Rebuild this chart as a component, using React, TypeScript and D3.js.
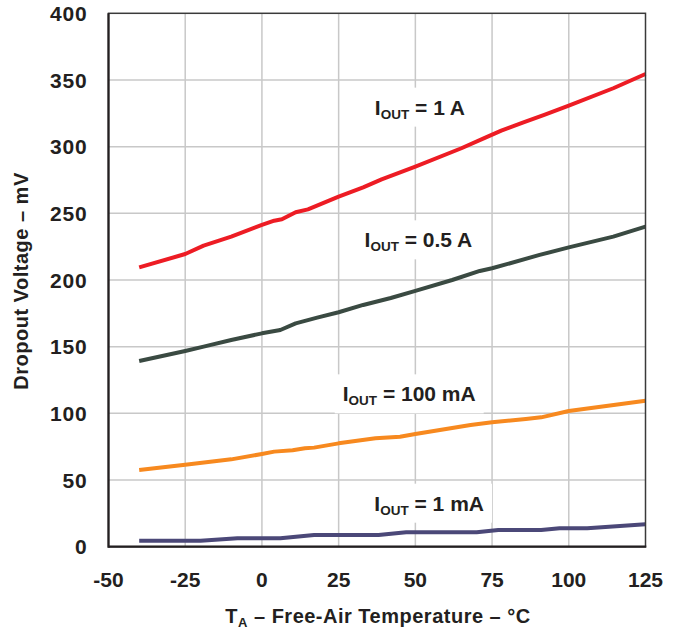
import React, { useEffect, useRef } from "react";
import * as d3 from "d3";

const xTicks = [-50, -25, 0, 25, 50, 75, 100, 125];
const yTicks = [0, 50, 100, 150, 200, 250, 300, 350, 400];

const temp1A = [-40, -25, -19, -10, 0, 4, 6.5, 11, 15, 25, 33, 39, 50, 65, 73, 78, 85, 92, 100, 114.5, 125];
const volt1A = [209.5, 219.5, 225.8, 232.5, 241.3, 244.5, 245.5, 250.8, 253, 262.5, 269.5, 275.5, 285, 298.8, 307, 312, 318, 323.8, 330.8, 343.8, 354.5];

const temp05A = [-40, -25, -19, -10, 0, 6, 11, 18, 25, 33, 42, 50, 62, 71, 75, 90.5, 100, 114.5, 125];
const volt05A = [139.3, 146.8, 150, 155, 160, 162.5, 167.5, 171.8, 175.8, 181.3, 186.5, 191.8, 200, 206.8, 208.8, 218.8, 224.5, 232.5, 240];

const temp100mA = [-40, -25, -10, 0, 4, 10, 14, 17, 25, 37, 45, 50, 60, 68, 75, 86, 91, 100, 125];
const volt100mA = [57.5, 61.5, 65.5, 69.5, 71.3, 72.3, 73.8, 74.3, 77.5, 81.3, 82.5, 84.5, 88.3, 91.3, 93.3, 95.8, 97, 101.8, 109.5];

const temp1mA = [-40, -20, -8, 6, 17, 38, 47, 70, 77, 91, 97, 106, 125];
const volt1mA = [4.5, 4.5, 6.3, 6.3, 8.8, 8.8, 10.8, 10.8, 12.5, 12.5, 13.8, 13.8, 16.8];

const seriesNames = ["1 A", "0.5 A", "100 mA", "1 mA"];
const seriesColors = ["#ed1c24", "#3a4a42", "#f7891f", "#4b4878"];
const seriesTemps = [temp1A, temp05A, temp100mA, temp1mA];
const seriesVolts = [volt1A, volt05A, volt100mA, volt1mA];
// label anchors in data units (center temperature, baseline voltage)
const labelTemps = [51.5, 51, 48, 54.5];
const labelVolts = [324, 224.5, 109, 27];

const W = 676;
const H = 637;
const M = { left: 108.5, right: 645.5, top: 13.3, bottom: 546.7 };
const FONT = "'Liberation Sans', Arial, Helvetica, sans-serif";
const INK = "#231f20";

export default function App() {
  const ref = useRef<SVGSVGElement | null>(null);

  useEffect(() => {
    const svg = d3.select(ref.current);
    svg.selectAll("*").remove();

    const x = d3.scaleLinear().domain([-50, 125]).range([M.left, M.right]);
    const y = d3.scaleLinear().domain([0, 400]).range([M.bottom, M.top]);

    svg.append("rect").attr("width", W).attr("height", H).attr("fill", "#fff");

    // grid
    const grid = svg.append("g").attr("stroke", "#c8c8c8").attr("stroke-width", 1.5);
    xTicks.slice(1, -1).forEach((t) => {
      grid.append("line").attr("x1", x(t)).attr("x2", x(t)).attr("y1", M.top).attr("y2", M.bottom);
    });
    yTicks.slice(1, -1).forEach((t) => {
      grid.append("line").attr("x1", M.left).attr("x2", M.right).attr("y1", y(t)).attr("y2", y(t));
    });

    // labels with white backgrounds
    const labelG = svg.append("g");
    seriesNames.forEach((name, i) => {
      const g = labelG.append("g");
      const rect = g.append("rect").attr("fill", "#fff");
      const txt = g
        .append("text")
        .attr("x", x(labelTemps[i]))
        .attr("y", y(labelVolts[i]))
        .attr("text-anchor", "middle")
        .attr("font-family", FONT)
        .attr("font-weight", "bold")
        .attr("font-size", 21)
        .attr("fill", INK);
      txt.append("tspan").text("I");
      txt.append("tspan").attr("font-size", 13.5).attr("dy", 4).text("OUT");
      txt.append("tspan").attr("dy", -4).text(" = " + name);
      const bb = (txt.node() as SVGTextElement).getBBox();
      const base = y(labelVolts[i]);
      rect
        .attr("x", bb.x - 8)
        .attr("width", bb.width + 16)
        .attr("y", base - 27)
        .attr("height", 39);
    });

    // lines
    const line = d3
      .line<[number, number]>()
      .x((d) => x(d[0]))
      .y((d) => y(d[1]));
    seriesNames.forEach((_, i) => {
      const pts = seriesTemps[i].map((t, j) => [t, seriesVolts[i][j]] as [number, number]);
      svg
        .append("path")
        .attr("d", line(pts))
        .attr("fill", "none")
        .attr("stroke", seriesColors[i])
        .attr("stroke-width", 4)
        .attr("stroke-linejoin", "round");
    });

    // frame
    svg
      .append("rect")
      .attr("x", M.left)
      .attr("y", M.top)
      .attr("width", M.right - M.left)
      .attr("height", M.bottom - M.top)
      .attr("fill", "none")
      .attr("stroke", "#3a3a3a")
      .attr("stroke-width", 1.5);
    svg.append("line").attr("x1", M.left).attr("x2", M.left).attr("y1", M.top).attr("y2", M.bottom + 1)
      .attr("stroke", INK).attr("stroke-width", 2.2);
    svg.append("line").attr("x1", M.left).attr("x2", M.right + 0.75).attr("y1", M.bottom).attr("y2", M.bottom)
      .attr("stroke", INK).attr("stroke-width", 2.2);

    // tick labels
    const tl = svg.append("g").attr("font-family", FONT).attr("font-weight", "bold").attr("fill", INK).attr("font-size", 21);
    yTicks.forEach((t) => {
      tl.append("text").attr("x", 87.5).attr("y", y(t) + 7.6).attr("text-anchor", "end").attr("letter-spacing", 0.8).text(String(t));
    });
    xTicks.forEach((t) => {
      tl.append("text").attr("x", x(t)).attr("y", 586.5).attr("text-anchor", "middle").text(String(t));
    });

    // axis titles
    const xt = svg
      .append("text")
      .attr("x", 378)
      .attr("y", 623)
      .attr("text-anchor", "middle")
      .attr("font-family", FONT)
      .attr("font-weight", "bold")
      .attr("font-size", 20)
      .attr("letter-spacing", 0.5)
      .attr("fill", INK);
    xt.append("tspan").text("T");
    xt.append("tspan").attr("font-size", 13).attr("dy", 4).text("A");
    xt.append("tspan").attr("dy", -4).text(" – Free-Air Temperature – °C");

    svg
      .append("text")
      .attr("transform", "translate(28,281) rotate(-90)")
      .attr("text-anchor", "middle")
      .attr("font-family", FONT)
      .attr("font-weight", "bold")
      .attr("font-size", 20)
      .attr("letter-spacing", 0.5)
      .attr("fill", INK)
      .text("Dropout Voltage – mV");
  }, []);

  return (
    <svg
      ref={ref}
      width={W}
      height={H}
      style={{ position: "absolute", left: 0, top: 0, display: "block" }}
    />
  );
}
